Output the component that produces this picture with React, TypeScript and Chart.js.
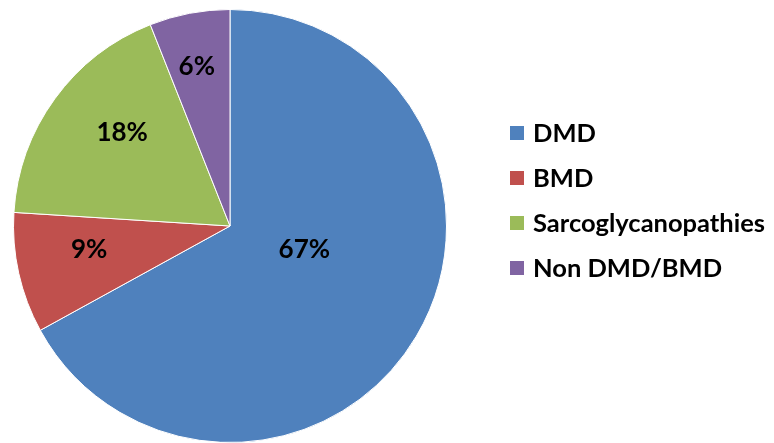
import React, { useEffect, useRef } from "react";
import { Chart, registerables } from "chart.js";

Chart.register(...registerables);

const categories = ["DMD", "BMD", "Sarcoglycanopathies", "Non DMD/BMD"];
const values = [67, 9, 18, 6];
const colors = ["#4F81BD", "#C0504D", "#9BBB59", "#8064A2"];
// label placement: fraction of radius and angle offset (degrees) from slice mid-angle
const labelRadius = [0.36, 0.66, 0.66, 0.75];
const labelAngleShift = [-13, 3, 5, -1];

const FONT = "Lato";

const labelPlugin = {
  id: "sliceLabels",
  afterDatasetsDraw(chart: any) {
    const ctx = chart.ctx;
    const meta = chart.getDatasetMeta(0);
    const total = values.reduce((a, b) => a + b, 0);
    ctx.save();
    ctx.font = `bold 26px ${FONT}`;
    ctx.fillStyle = "#000";
    ctx.textAlign = "center";
    ctx.textBaseline = "middle";
    meta.data.forEach((arc: any, i: number) => {
      const p = arc.getProps(["x", "y", "startAngle", "endAngle", "outerRadius"], true);
      const mid = (p.startAngle + p.endAngle) / 2 + (labelAngleShift[i] * Math.PI) / 180;
      const r = p.outerRadius * labelRadius[i];
      const x = p.x + Math.cos(mid) * r;
      const y = p.y + Math.sin(mid) * r;
      ctx.fillText(Math.round((values[i] / total) * 100) + "%", x, y);
    });
    ctx.restore();
  },
};

const legendPlugin = {
  id: "sideLegend",
  afterDraw(chart: any) {
    const ctx = chart.ctx;
    const left = chart.chartArea.right + 63;
    const startY = 133;
    const step = 45;
    ctx.save();
    ctx.font = `bold 25.5px ${FONT}`;
    ctx.textBaseline = "middle";
    ctx.textAlign = "left";
    categories.forEach((c, i) => {
      const y = startY + i * step;
      ctx.fillStyle = colors[i];
      ctx.fillRect(left, y - 7, 14, 14);
      ctx.fillStyle = "#000";
      ctx.fillText(c, left + 23, y + 1);
    });
    ctx.restore();
  },
};

export default function App() {
  const ref = useRef<HTMLCanvasElement>(null);
  useEffect(() => {
    document.body.style.margin = "0";
    const chart = new Chart(ref.current!, {
      type: "pie",
      data: {
        labels: categories,
        datasets: [
          {
            data: values,
            backgroundColor: colors,
            borderColor: "#ffffff",
            borderWidth: 1,
          },
        ],
      },
      options: {
        animation: false,
        responsive: false,
        layout: { padding: { left: 13, top: 9, bottom: 0, right: 327 } },
        plugins: {
          legend: { display: false },
          tooltip: { enabled: false },
        },
      },
      plugins: [labelPlugin, legendPlugin],
    });
    return () => chart.destroy();
  }, []);
  return (
    <div style={{ width: 774, height: 443, background: "#fff" }}>
      <canvas ref={ref} width={774} height={443} />
    </div>
  );
}
